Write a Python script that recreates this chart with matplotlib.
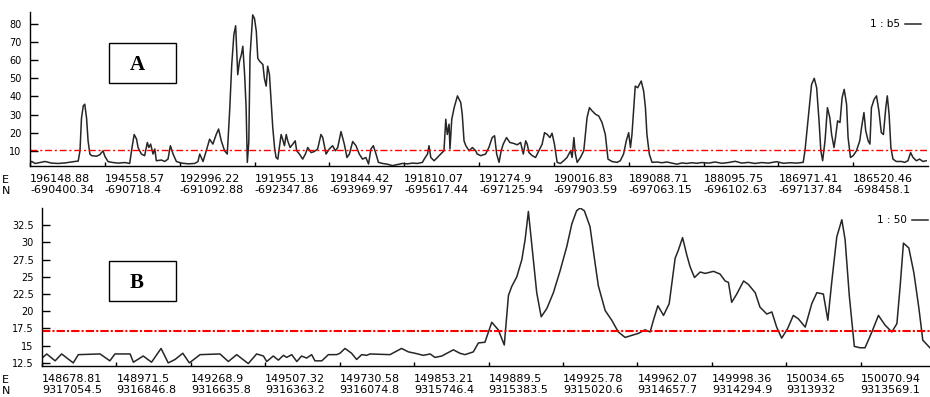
import matplotlib
matplotlib.use("Agg")
import matplotlib.pyplot as plt
from matplotlib.patches import Rectangle

# profile A (station index, value)
a_station = [0, 0.6, 1.7, 3.3, 5, 7.2, 9.4, 11.7, 15, 16.1, 16.7, 17.2, 17.8, 18.3, 18.9, 19.4, 20, 20.6,
             22.2, 23.3, 24.4, 25, 26.1, 27.8, 29.4, 31.7, 33.3, 34.1, 34.8, 35.6, 36.1, 37.2, 38.3, 39.2,
             39.7, 40.3, 41.1, 41.7, 42.2, 43.9, 45, 46.1, 46.9, 47.8, 48.9, 50.6, 52.8, 55, 56.1, 56.7,
             57.8, 58.9, 60, 61.1, 62.2, 63, 63.9, 65, 65.9, 66.7, 67.4, 68.1, 68.7, 69.4, 70, 70.6, 71.1,
             71.7, 72.2, 72.6, 73.1, 73.5, 73.9, 74.4, 75, 75.6, 76.1, 76.7, 77.8, 78.3, 78.9, 79.4, 80,
             80.6, 81.1, 81.7, 82.2, 82.8, 83.3, 83.9, 84.4, 85, 85.6, 86.1, 86.9, 87.8, 88.6, 89.1, 90,
             91.1, 92, 92.8, 93.9, 95, 96.1, 97.2, 97.8, 98.9, 100, 101.1, 102, 102.8, 103.9, 105, 105.9,
             106.7, 107.8, 108.9, 110, 111.1, 112.2, 113.1, 113.9, 114.7, 115.6, 116.4, 117.8, 119.4,
             121.1, 122.8, 124.4, 126.1, 127.8, 129.4, 131.1, 131.7, 132.8, 133.3, 133.9, 135, 136.1,
             137.2, 138.3, 138.9, 139.4, 140, 140.3, 140.9, 141.7, 142.8, 143.9, 144.4, 145, 145.6, 146.7,
             147.8, 148.9, 149.4, 150.6, 152.2, 153.3, 154.4, 155.2, 155.9, 156.7, 157.4, 158.1, 159.2,
             160.3, 161.7, 162.8, 163.9, 164.8, 165.6, 166.1, 166.7, 167.8, 168.9, 170, 171.1, 171.9,
             172.8, 173.7, 174.4, 175.2, 176.1, 177.2, 178.3, 179.4, 180.6, 181.1, 181.7, 182.2, 182.8,
             183.9, 185, 186.1, 186.9, 187.8, 188.9, 190, 191.1, 192.2, 193.1, 194.4, 196.1, 197.2, 198.3,
             199.2, 200, 200.6, 201.1, 201.7, 202.2, 203, 203.6, 204.2, 205, 205.6, 206.1, 206.9, 207.8,
             209.4, 211.1, 212.8, 214.4, 216.1, 217.8, 219.4, 221.1, 222.8, 224.4, 226.7, 228.9, 231.1,
             233.3, 235.6, 237.8, 240, 242.2, 244.4, 246.7, 249.4, 251.7, 253.9, 256.1, 258.3, 258.9, 260,
             261.1, 262, 262.8, 263.6, 264.2, 264.8, 265.6, 266.4, 267.2, 267.8, 268.6, 269.1, 269.8,
             270.6, 271.3, 272, 272.8, 273.3, 274.1, 275, 276.1, 277.2, 277.8, 278.6, 279.2, 280, 280.6,
             281.1, 282, 282.8, 283.6, 284.4, 285.1, 285.9, 286.4, 287, 287.6, 288.3, 289.4, 291.1, 292.2,
             293.3, 294.2, 295, 296.1, 297.2, 298.3, 299.4]
a_value = [3.5, 4.1, 3.0, 3.5, 4.1, 3.2, 3.0, 3.3, 4.1, 4.3, 10, 28, 34.8, 35.7, 28, 15.5, 8.2, 7.3,
           7, 7.8, 10, 7, 4, 3.5, 3.2, 3.5, 3.0, 12, 19, 16.4, 11.8, 8.2, 7.3, 14.6,
           11.8, 13.7, 8.2, 11, 4.5, 4.9, 4.1, 5.4, 12.8, 8.2, 4.1, 3.2, 2.8, 3.0, 4, 8.2,
           4.1, 10, 16.4, 13.7, 19, 22, 15.5, 10, 8.2, 32, 57.6, 74, 79, 52, 59.5, 63, 67.7,
           52, 33.8, 3.6, 15, 62, 72, 85, 83, 76, 61, 59.5, 57.6, 50, 45.7, 56.7, 52,
           35.7, 22.8, 11.8, 6.3, 5.4, 11.8, 19, 16.4, 12.8, 19, 15.5, 11.8, 13.7, 15.5, 10, 8.2,
           5.4, 8.2, 11.8, 9, 9.6, 11, 19, 17.3, 8.2, 11, 12.8, 10, 11.8, 20.6, 13.7, 6.3,
           8.2, 15.1, 12.8, 8.2, 5.4, 6.3, 2.7, 11, 12.8, 8.2, 3.6, 3.0, 2.6,
           1.8, 2.4, 3.0, 2.8, 3.2, 3.0, 3.6, 5.4, 8.2, 12.8, 6.3, 4.5, 6.3,
           8.2, 10, 27.4, 19, 24.7, 11, 27.4, 33.8, 40.3, 36.6, 30.2, 15.5, 12.8, 10,
           11.8, 10, 8.2, 7.3, 8.2, 11.8, 17.3, 18.3, 8.2, 3.6, 10, 13.7, 17.3,
           14.6, 14, 13.3, 14.6, 8.2, 15.5, 13.7, 9, 7.3, 6.3, 10, 13.7, 20,
           19, 17.3, 19.7, 13.7, 3.6, 3, 4.5, 6.3, 10, 6.3, 17.3, 8.2, 3.6,
           6.3, 10, 28.3, 33.8, 32, 30.2, 29.2, 25.6, 19, 5.4, 4.1, 3.6, 4.5, 8.2,
           15.5, 20, 11.8, 19, 33.8, 45.7, 44.8, 46.6, 48.5, 43, 33.8, 19, 8.2, 3.6,
           3.8, 3.4, 3.8, 3.2, 2.6, 3.3, 3.0, 3.4, 3.1, 3.5, 3.2, 3.8, 3.1,
           3.5, 4.2, 3.2, 3.6, 3.0, 3.5, 3.2, 4.0, 3.1, 3.4, 3.2, 3.6, 10, 28.3,
           46.6, 50, 44.8, 26.5, 10, 4.5, 15.5, 33.8, 28.3, 19, 11.8, 17.3, 26.5,
           25.6, 39.3, 43.9, 35.7, 17.3, 6.3, 7.3, 10, 15.5, 22.8, 31.1, 21, 15.5, 13.7,
           33.8, 38.4, 40.3, 32, 20, 19, 33.8, 40.3, 30.2, 11.8, 5.4, 4.1, 4.1, 3.6,
           4.5, 9, 6.3, 4.5, 5.4, 4.1, 4.5]
a_threshold = 10.4
a_e = ["196148.88", "194558.57", "192996.22", "191955.13", "191844.42", "191810.07",
       "191274.9", "190016.83", "189088.71", "188095.75", "186971.41", "186520.46"]
a_n = ["-690400.34", "-690718.4", "-691092.88", "-692347.86", "-693969.97", "-695617.44",
       "-697125.94", "-697903.59", "-697063.15", "-696102.63", "-697137.84", "-698458.1"]

# profile B
b_station = [0, 1.6, 4.4, 6.6, 10.5, 12.2, 19.5, 22.8, 24.5, 29.6, 30.7, 34, 36.8, 40, 42.4, 44.7,
             47.3, 49.5, 53.1, 59.8, 62.6, 65.4, 69.3, 72.1, 74.4, 75.5, 77.7, 79.4, 81.1, 82.2, 83.9,
             85.6, 87.2, 88.9, 90.6, 91.7, 94, 96.2, 99, 100.1, 101.8, 104, 105.7, 107.4, 109.1, 110.2,
             116.9, 120.8, 123.1, 125.3, 128.1, 130.4, 132, 134.3, 138.2, 140.4, 142.1,
             144.9, 146.6, 148.8, 151.1, 153.3, 155.3, 156.7, 157.8, 159.5, 161.2, 162.3, 163.4, 164.5,
             166.2, 167.7, 169.6, 171.8, 174, 176.3, 178, 179.6, 180.8, 182.2, 184.1, 185.8, 186.9,
             189.2, 191.4, 193.6, 195.9, 198.1, 200.4, 202.6, 204.3, 205.4, 206.9, 208.8, 210.7, 212.7,
             213.8, 215.2, 216.6, 217.7, 219.2, 221.1, 222.8, 225.6, 227.8, 229.5, 230.6, 231.7, 233.4,
             235.7, 237.3, 239.6, 241.2, 243.5, 245.2, 246.8, 248.5, 250.5, 252.4, 254.1, 256.4, 258.6,
             260.3, 262.5, 264, 265.3, 267, 268.7, 269.8, 271.2, 272.9, 274.8, 276.5, 278.8, 281, 283.2,
             285.5, 287.2, 288.3, 289.4, 291.2, 292.9, 294.6, 295.9, 297.4, 298.5]
b_value = [13.2, 13.8, 12.8, 13.8, 12.5, 13.7, 13.8, 12.8, 13.8, 13.8, 12.6, 13.5, 12.6, 14.6, 12.5, 13,
           13.9, 12.5, 13.7, 13.8, 12.7, 13.7, 12.4, 13.8, 13.5, 12.7, 13.5, 12.9, 13.6, 13.3, 13.7,
           12.7, 13.5, 13.2, 13.7, 12.8, 12.8, 13.7, 13.7, 13.9, 14.6, 13.9, 13, 13.7, 13.6, 13.8,
           13.7, 14.6, 14.1, 13.9, 13.6, 13.8, 13.3, 13.5, 14.4, 13.9, 13.7,
           14.1, 15.4, 15.5, 18.4, 17.3, 15.1, 22.3, 23.6, 25, 27.5, 30.4, 34.5, 29.9,
           22.7, 19.2, 20.4, 22.7, 25.8, 29.4, 32.7, 34.6, 35, 34.6, 32.3, 27, 23.7,
           20.1, 18.7, 17, 16.2, 16.5, 16.8, 17.3, 17, 18.7, 20.8, 19.4, 21.1, 27.7,
           28.9, 30.7, 28.2, 26.5, 24.9, 25.7, 25.5, 25.8, 25.4, 24.4, 24.2, 21.3, 22.5,
           24.4, 23.9, 22.7, 20.6, 19.6, 19.9, 17.7, 16.1, 17.5, 19.4, 18.9, 17.7, 21.1,
           22.7, 22.5, 18.7, 24.2, 30.8, 33.3, 30.4, 22.3, 14.9, 14.7, 14.7, 17, 19.4, 18,
           17, 18.2, 23.7, 29.9, 29.2, 25.6, 20.4, 15.8, 15.1, 14.6]
b_threshold = 17.1
b_e = ["148678.81", "148971.5", "149268.9", "149507.32", "149730.58", "149853.21",
       "149889.5", "149925.78", "149962.07", "149998.36", "150034.65", "150070.94"]
b_n = ["9317054.5", "9316846.8", "9316635.8", "9316363.2", "9316074.8", "9315746.4",
       "9315383.5", "9315020.6", "9314657.7", "9314294.9", "9313932", "9313569.1"]

ticks = list(range(0, 300, 25))

plt.rcParams['font.family'] = 'DejaVu Sans'
fig = plt.figure(figsize=(9.3, 3.97), dpi=100)
fig.patch.set_facecolor("white")

ax_a = fig.add_axes([30 / 930, 1 - 166 / 397, 898 / 930, 154 / 397])
ax_b = fig.add_axes([42 / 930, 1 - 366 / 397, 893 / 930, 158 / 397])

panels = [
    (ax_a, a_station, a_value, a_threshold, a_e, a_n, "1 : b5", (1.6, 86.6),
     list(range(10, 90, 10)), (0, (5, 2, 1.5, 2)), 1.0),
    (ax_b, b_station, b_value, b_threshold, b_e, b_n, "1 : 50", (12.05, 35.0),
     [12.5, 15, 17.5, 20, 22.5, 25, 27.5, 30, 32.5], (0, (4, 1, 1, 1)), 1.5),
]

for ax, st, val, thr, e_lab, n_lab, leg, ylim, yt, dash, dlw in panels:
    ax.plot(st, val, color="#262626", lw=1.1, label=leg)
    ax.axhline(thr, color="red", ls=dash, lw=dlw)
    ax.set_xlim(0, 300)
    ax.set_ylim(*ylim)
    ax.set_xticks(ticks)
    ax.set_xticklabels([e + "\n" + n for e, n in zip(e_lab, n_lab)], ha="left",
                       fontsize=8, linespacing=1.1)
    ax.set_yticks(yt)
    ax.set_yticklabels([("%g" % t) for t in yt], fontsize=7)
    ax.tick_params(axis="x", direction="in", length=3, pad=6, width=1)
    ax.tick_params(axis="y", direction="in", length=6, pad=6, width=1)
    for s in ["top", "right"]:
        ax.spines[s].set_visible(False)
    ax.spines["left"].set_linewidth(1)
    ax.spines["bottom"].set_linewidth(1)
    ax.legend(loc="upper right", frameon=False, markerfirst=False, handlelength=1.5,
              fontsize=7.5, borderaxespad=0.3, handletextpad=0.5)

# E / N row captions and panel boxes
for y_top in [175, 375]:
    fig.text(2 / 930, 1 - y_top / 397, "E\nN", fontsize=8, va="top", linespacing=1.1)

for y0, letter in [(43, "A"), (261, "B")]:
    fig.add_artist(Rectangle((109 / 930, 1 - (y0 + 40) / 397), 67 / 930, 40 / 397,
                             transform=fig.transFigure, fill=False, ec="black", lw=1))
    fig.text(137 / 930, 1 - (y0 + 22) / 397, letter, fontsize=15, fontweight="bold",
             family="Liberation Serif", ha="center", va="center")

fig.savefig("out.png", dpi=100)
